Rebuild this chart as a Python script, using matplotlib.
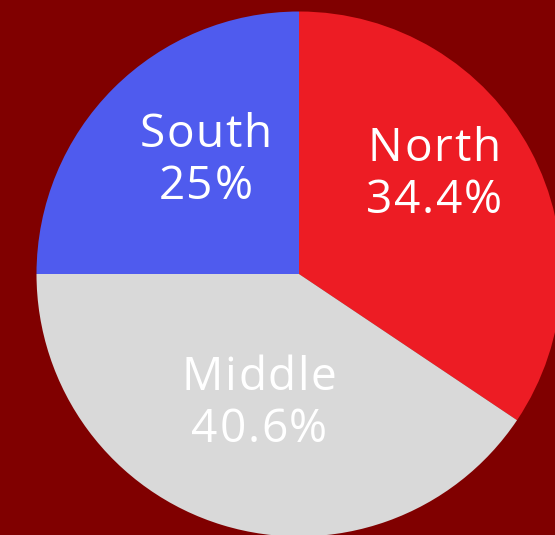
import matplotlib
matplotlib.use("Agg")
import matplotlib.pyplot as plt
from matplotlib.font_manager import FontProperties
from matplotlib.transforms import offset_copy

# ---- data ----
categories = ["North", "Middle", "South"]
values = [34.4, 40.6, 25.0]
pct_labels = ["34.4%", "40.6%", "25%"]
colors = ["#ED1C24", "#D9D9D9", "#4F5BEE"]

# ---- style / layout ----
W, H, DPI = 555, 535, 100
BG = "#800000"
CX, CY, R = 299, 274, 262.5          # pie centre / radius in pixels (from top-left)
label_anchor = {                       # label block centre (data units, pie radius = 1)
    "North": (0.514, 0.333),
    "Middle": (-0.152, -0.542),
    "South": (-0.356, 0.385),
}
LINE_GAP = 0.198                       # baseline spacing in data units
FONT_PX = 46
LETTER_GAP_PX = 1.6

fig = plt.figure(figsize=(W / DPI, H / DPI), dpi=DPI, facecolor=BG)
ax = fig.add_axes([0, 0, 1, 1])
ax.set_facecolor(BG)

ax.pie(values, colors=colors, startangle=90, counterclock=False,
       radius=1, center=(0, 0), wedgeprops=dict(linewidth=0))
ax.set_aspect("auto")
ax.set_xlim(-CX / R, (W - CX) / R)
ax.set_ylim(-(H - CY) / R, CY / R)
ax.axis("off")

prop = FontProperties(family=["Open Sans", "DejaVu Sans"], size=FONT_PX * 72 / DPI)
renderer = fig.canvas.get_renderer()


def spaced_text(x, y, s):
    widths = [renderer.get_text_width_height_descent(c, prop, ismath=False)[0] for c in s]
    total = sum(widths) + LETTER_GAP_PX * (len(s) - 1)
    off = -total / 2
    for c, w in zip(s, widths):
        tr = offset_copy(ax.transData, fig=fig, x=off * 72 / DPI, y=0, units="points")
        ax.text(x, y, c, transform=tr, fontproperties=prop, color="white",
                ha="left", va="baseline")
        off += w + LETTER_GAP_PX


for cat, pct in zip(categories, pct_labels):
    ax_x, ax_y = label_anchor[cat]
    spaced_text(ax_x, ax_y + LINE_GAP / 2, cat)
    spaced_text(ax_x, ax_y - LINE_GAP / 2, pct)

fig.savefig("out.png", dpi=DPI, facecolor=BG)
